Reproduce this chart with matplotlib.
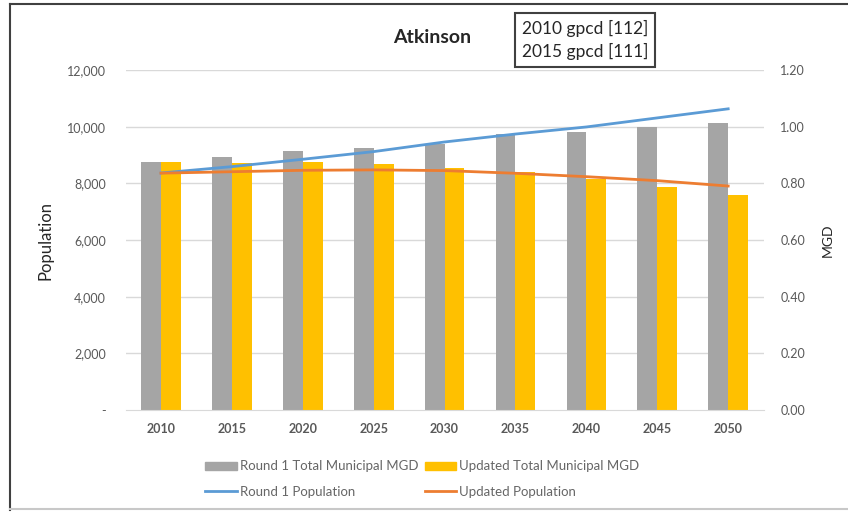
import numpy as np
import matplotlib.pyplot as plt
from matplotlib.patches import Rectangle
from matplotlib.lines import Line2D

years = ['2010', '2015', '2020', '2025', '2030', '2035', '2040', '2045', '2050']
round1_mgd = [0.874, 0.894, 0.914, 0.926, 0.938, 0.973, 0.982, 1.000, 1.014]
updated_mgd = [0.876, 0.871, 0.876, 0.867, 0.855, 0.841, 0.814, 0.786, 0.758]
round1_pop = [8365, 8590, 8850, 9120, 9460, 9740, 9990, 10310, 10630]
updated_pop = [8360, 8410, 8460, 8475, 8450, 8355, 8235, 8095, 7905]

plt.rcParams['font.family'] = ['Lato', 'DejaVu Sans']

fig = plt.figure(figsize=(8.48, 5.14), dpi=100)
fig.patch.set_facecolor('white')

# outer chart frame (left and top dark, bottom light)
fig.add_artist(Line2D([10 / 848, 10 / 848], [4 / 514, 1 - 4 / 514], transform=fig.transFigure,
                      color='#404040', lw=1.5))
fig.add_artist(Line2D([10 / 848, 1], [1 - 4 / 514, 1 - 4 / 514], transform=fig.transFigure,
                      color='#404040', lw=1.5))
fig.add_artist(Line2D([10 / 848, 1], [5 / 514, 5 / 514], transform=fig.transFigure,
                      color='#C8C8C8', lw=1.5))

ax = fig.add_axes([0.148, 0.2023, 0.7525, 0.6615])
ax2 = ax.twinx()

x = np.arange(len(years))
w = 0.28
ax2.bar(x - w / 2, round1_mgd, w, color='#A5A5A5', zorder=2)
ax2.bar(x + w / 2, updated_mgd, w, color='#FFC000', zorder=2)
ax2.set_ylim(0, 1.2)
ax2.set_yticks(np.arange(0, 1.21, 0.2))
ax2.set_yticklabels(['%.2f' % v for v in np.arange(0, 1.21, 0.2)])

ax.set_zorder(ax2.get_zorder() + 1)
ax.patch.set_visible(False)
ax.plot(x, round1_pop, color='#5B9BD5', lw=2)
ax.plot(x, updated_pop, color='#ED7D31', lw=2)
ax.set_ylim(0, 12000)
ax.set_yticks(range(0, 12001, 2000))
ax.set_yticklabels(['-'] + ['{:,}'.format(v) for v in range(2000, 12001, 2000)])
ax.set_xlim(-0.5, len(years) - 0.5)
ax.set_xticks(x)
ax.set_xticklabels(years, fontweight='bold', fontsize=9, color='#262626')

# gridlines drawn on the back axis
for v in np.arange(0.2, 1.21, 0.2):
    ax2.axhline(v, color='#D9D9D9', lw=1, zorder=0)

for a in (ax, ax2):
    for s in a.spines.values():
        s.set_visible(False)
    a.tick_params(length=0, labelsize=9, labelcolor='#595959')
ax.spines['bottom'].set_visible(True)
ax.spines['bottom'].set_color('#D9D9D9')
ax.tick_params(axis='y', pad=14)
ax2.tick_params(axis='y', pad=12)
ax.tick_params(axis='x', pad=9)

ax.set_ylabel('Population', fontsize=12, color='#262626', labelpad=10)
ax2.set_ylabel('MGD', fontsize=10, color='#262626', rotation=90, labelpad=12)

fig.text(0.51, 0.928, 'Atkinson', ha='center', va='center', fontsize=14, fontweight='bold', color='#262626')
fig.text(0.690, 0.922, '2010 gpcd [112]\n2015 gpcd [111]', ha='center', va='center', fontsize=12.5,
         color='#262626', linespacing=1.45,
         bbox=dict(boxstyle='square,pad=0.4', fc='white', ec='#404040', lw=1.5))

# handles ordered so rows read: bars, then lines
handles = [Rectangle((0, 0), 1, 1, color='#A5A5A5'), Line2D([], [], color='#5B9BD5', lw=2),
           Rectangle((0, 0), 1, 1, color='#FFC000'), Line2D([], [], color='#ED7D31', lw=2)]
labels = ['Round 1 Total Municipal MGD', 'Round 1 Population',
          'Updated Total Municipal MGD', 'Updated Population']
fig.legend(handles, labels, ncol=2, loc='center', bbox_to_anchor=(0.498, 0.068), frameon=False,
           fontsize=9.5, labelcolor='#666666', handlelength=2.4, handletextpad=0.2,
           columnspacing=0.5, labelspacing=1.0, handleheight=0.6)

fig.savefig('out.png', dpi=100, facecolor='white')
